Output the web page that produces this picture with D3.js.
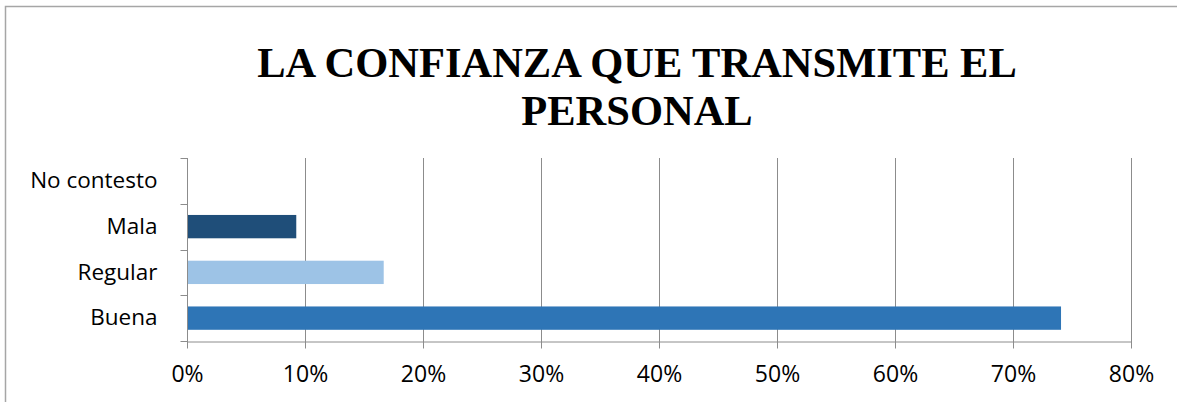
<!DOCTYPE html>
<html>
<head>
<meta charset="utf-8">
<script src="https://cdn.jsdelivr.net/npm/d3@7"></script>
<style>
  body { margin: 0; background: #fff; }
</style>
</head>
<body>
<div id="chart"></div>
<script>
// Chart data
const categories = ['Buena', 'Regular', 'Mala', 'No contesto'];
const values = [0.7407, 0.1667, 0.0926, 0];
const barColors = ['#2E75B6', '#9DC3E6', '#1F4E79', '#5B9BD5'];
const xTicks = [0, 0.1, 0.2, 0.3, 0.4, 0.5, 0.6, 0.7, 0.8];
const titleLines = ['LA CONFIANZA QUE TRANSMITE EL', 'PERSONAL'];

const width = 1177;
const height = 402;
const margin = { top: 158, right: 46, bottom: 61, left: 187 };

const svg = d3.select('#chart')
  .append('svg')
  .attr('width', width)
  .attr('height', height);

// chart frame
svg.append('rect')
  .attr('x', 5.5)
  .attr('y', 6.5)
  .attr('width', width + 10)
  .attr('height', height + 10)
  .attr('fill', '#fff')
  .attr('stroke', '#a6a6a6')
  .attr('stroke-width', 1.5);

// title
svg.append('text')
  .attr('text-anchor', 'middle')
  .attr('font-family', '"Liberation Serif", "Times New Roman", serif')
  .attr('font-weight', 'bold')
  .attr('font-size', 42.5)
  .selectAll('tspan')
  .data(titleLines)
  .enter()
  .append('tspan')
  .attr('x', 637)
  .attr('y', (d, i) => 77 + i * 48)
  .text(d => d);

const x = d3.scaleLinear()
  .domain([0, 0.8])
  .range([margin.left, width - margin.right]);

const y = d3.scaleBand()
  .domain(categories)
  .range([height - margin.bottom, margin.top])
  .paddingInner(0.49)
  .paddingOuter(0.245);

// vertical gridlines
svg.append('g')
  .selectAll('line')
  .data(xTicks.slice(1))
  .enter()
  .append('line')
  .attr('x1', d => Math.round(x(d)) + 0.5)
  .attr('x2', d => Math.round(x(d)) + 0.5)
  .attr('y1', margin.top)
  .attr('y2', height - margin.bottom + 7)
  .attr('stroke', '#8c8c8c')
  .attr('stroke-width', 1);

// bars
svg.append('g')
  .selectAll('rect')
  .data(values)
  .enter()
  .append('rect')
  .attr('x', x(0) + 1)
  .attr('y', (d, i) => y(categories[i]))
  .attr('width', d => Math.max(0, x(d) - x(0) - 1))
  .attr('height', y.bandwidth())
  .attr('fill', (d, i) => barColors[i]);

// x axis
const xAxis = svg.append('g')
  .attr('transform', `translate(0, ${height - margin.bottom + 0.5})`)
  .call(d3.axisBottom(x)
    .tickValues(xTicks)
    .tickFormat(d3.format('.0%'))
    .tickSize(7)
    .tickSizeOuter(0)
    .tickPadding(17));

xAxis.select('.domain').attr('stroke', '#8c8c8c');
xAxis.selectAll('.tick line').attr('stroke', '#8c8c8c');
xAxis.selectAll('text')
  .attr('font-family', '"Open Sans", sans-serif')
  .attr('font-size', 23)
  .attr('fill', '#000');

// y axis
const yAxis = svg.append('g')
  .attr('transform', `translate(${margin.left + 0.5}, 0)`)
  .call(d3.axisLeft(y)
    .tickSize(0)
    .tickPadding(30));

yAxis.select('.domain')
  .attr('stroke', '#8c8c8c')
  .attr('d', `M0,${margin.top}V${height - margin.bottom + 7}`);
yAxis.selectAll('text')
  .attr('font-family', '"Open Sans", sans-serif')
  .attr('font-size', 22.5)
  .attr('fill', '#000');

// y tick marks between categories
const yBounds = d3.range(categories.length + 1)
  .map(i => height - margin.bottom - i * (height - margin.bottom - margin.top) / categories.length);
yAxis.append('g')
  .selectAll('line')
  .data(yBounds)
  .enter()
  .append('line')
  .attr('x1', -7)
  .attr('x2', 0)
  .attr('y1', d => Math.round(d) + 0.5)
  .attr('y2', d => Math.round(d) + 0.5)
  .attr('stroke', '#8c8c8c');
</script>
</body>
</html>
